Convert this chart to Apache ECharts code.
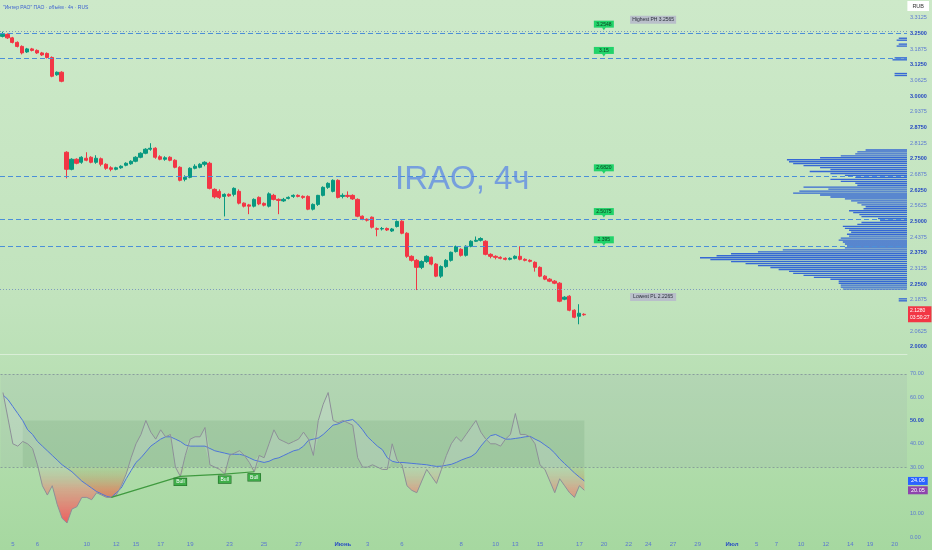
<!DOCTYPE html>
<html><head><meta charset="utf-8">
<script src="https://cdn.jsdelivr.net/npm/echarts/dist/echarts.min.js"></script>
<style>
html,body{margin:0;padding:0;width:932px;height:550px;overflow:hidden;}
#c{width:932px;height:550px;background:linear-gradient(180deg,#cde9c9 0%,#c1e3bd 55%,#a6d8a0 100%);}
</style></head><body><div id="c"></div>
<script>
// ---------- DATA ----------
// candles: [open, close, low, high]
const candles = [
[3.238,3.246,3.234,3.2565],[3.246,3.232,3.228,3.25],[3.232,3.214,3.21,3.236],[3.214,3.198,3.194,3.218],
[3.198,3.172,3.166,3.202],[3.176,3.188,3.172,3.192],[3.188,3.182,3.178,3.192],[3.182,3.172,3.168,3.186],
[3.172,3.164,3.16,3.176],[3.170,3.154,3.15,3.174],[3.154,3.079,3.075,3.158],[3.085,3.095,3.081,3.098],
[3.095,3.059,3.055,3.099],[2.776,2.708,2.672,2.780],[2.708,2.748,2.704,2.752],[2.748,2.732,2.728,2.752],
[2.736,2.756,2.73,2.76],[2.752,2.744,2.74,2.776],[2.756,2.736,2.732,2.76],[2.736,2.752,2.73,2.764],
[2.75,2.728,2.72,2.755],[2.728,2.712,2.706,2.732],[2.714,2.708,2.70,2.72],[2.708,2.714,2.704,2.718],
[2.714,2.72,2.71,2.724],[2.724,2.732,2.72,2.736],[2.73,2.74,2.726,2.744],
[2.74,2.756,2.736,2.76],[2.756,2.772,2.752,2.776],[2.772,2.788,2.768,2.792],[2.788,2.792,2.782,2.812],
[2.792,2.756,2.75,2.796],[2.758,2.748,2.744,2.764],[2.748,2.754,2.742,2.76],[2.756,2.744,2.74,2.76],
[2.744,2.716,2.712,2.748],[2.716,2.664,2.66,2.72],[2.668,2.676,2.66,2.684],
[2.676,2.712,2.672,2.716],[2.712,2.72,2.708,2.728],[2.716,2.728,2.712,2.732],
[2.728,2.736,2.72,2.74],[2.732,2.632,2.628,2.738],[2.628,2.598,2.592,2.632],[2.62,2.596,2.59,2.628],
[2.6,2.608,2.52,2.612],[2.608,2.602,2.598,2.612],[2.608,2.632,2.6,2.636],[2.62,2.573,2.568,2.628],
[2.573,2.561,2.556,2.576],[2.566,2.561,2.529,2.57],[2.561,2.588,2.556,2.592],[2.596,2.57,2.565,2.6],
[2.572,2.565,2.56,2.576],[2.561,2.61,2.556,2.616],[2.604,2.588,2.584,2.61],[2.588,2.584,2.529,2.592],
[2.582,2.588,2.578,2.594],[2.592,2.596,2.588,2.6],[2.6,2.604,2.594,2.608],[2.604,2.6,2.596,2.608],
[2.6,2.596,2.59,2.604],[2.6,2.549,2.545,2.604],[2.549,2.568,2.544,2.572],[2.568,2.604,2.562,2.606],
[2.604,2.636,2.6,2.64],[2.636,2.652,2.63,2.656],[2.62,2.664,2.616,2.668],[2.664,2.596,2.592,2.668],
[2.6,2.604,2.592,2.612],[2.604,2.6,2.594,2.62],[2.604,2.59,2.586,2.608],[2.588,2.521,2.517,2.592],
[2.521,2.509,2.505,2.524],[2.509,2.505,2.50,2.512],[2.517,2.477,2.472,2.52],[2.471,2.469,2.441,2.476],
[2.47,2.472,2.464,2.478],[2.472,2.466,2.462,2.476],[2.462,2.47,2.458,2.474],
[2.48,2.5,2.476,2.504],[2.501,2.453,2.449,2.505],
[2.453,2.361,2.355,2.457],[2.361,2.345,2.34,2.365],[2.345,2.317,2.2265,2.35],[2.317,2.34,2.31,2.345],
[2.34,2.361,2.335,2.365],[2.357,2.33,2.325,2.36],[2.33,2.282,2.278,2.334],[2.282,2.32,2.275,2.325],
[2.32,2.345,2.315,2.35],[2.345,2.377,2.34,2.38],[2.38,2.40,2.376,2.404],
[2.389,2.365,2.36,2.393],[2.365,2.401,2.36,2.405],[2.401,2.421,2.397,2.425],
[2.421,2.425,2.418,2.44],[2.425,2.432,2.42,2.437],[2.421,2.369,2.365,2.425],[2.369,2.361,2.353,2.373],
[2.361,2.357,2.349,2.365],[2.357,2.353,2.349,2.361],[2.353,2.349,2.345,2.357],[2.349,2.353,2.345,2.357],
[2.353,2.361,2.349,2.365],[2.361,2.349,2.345,2.401],[2.349,2.345,2.341,2.353],[2.345,2.341,2.337,2.349],
[2.337,2.317,2.30,2.341],[2.317,2.282,2.278,2.321],[2.282,2.27,2.266,2.286],[2.27,2.262,2.258,2.274],
[2.262,2.254,2.25,2.266],[2.254,2.182,2.178,2.258],[2.19,2.198,2.186,2.202],[2.202,2.146,2.142,2.206],
[2.146,2.118,2.114,2.15],[2.122,2.134,2.09,2.17],[2.13,2.128,2.124,2.134]
];
const rsiValues = [62,51,40,39,41,40,38,31,22,18,22,14,8,6,12,13,17,17,16,19,18,17,17,18,22,27,34,40,44,50,45,42,46,43,44,30,26,35,42,43,43,47,31,30,29,27,35,36,37,35,32,28,35,34,40,46,42,41,40,41,42,45,42,35,50,57,62,50,49,50,49,48,34,30,30,31,30,29,29,40,33,31,22,20,19,24,29,26,23,29,35,40,43,41,44,47,50,45,42,40,40,39,42,44,53,44,44,43,40,31,29,24,19,25,22,19,17,22,20.05];
const rsiMaValues = [61,59,56,53,50,46,44,41,39,37,35,33,31,29.5,28,26,24,22.5,21,19.5,18.5,17.5,17,19,21,25,28.5,32,34,36.5,39,40.5,42,43,43,42,41,39.5,39,39,39,39,38,37,36.5,36,35.5,35.5,35.5,35,34,33,32.5,32,32.5,33.5,34,35,36,37,37.5,39,41.5,42,42.5,44,46,48,48.5,49.5,50,50.4,48.5,46,43,41,39,37.5,34,32.5,32,32,31.8,31.6,31.4,31.2,31,30.6,30.3,30.4,30.8,31.2,32,33,33.8,34.5,36,39,41.5,43.5,44,43,42,42,42.3,42.6,43,43.2,42,41,39.5,38,36,33.5,31.5,29.5,27.5,25.7,24.06];
const bullDivergence = [[22,17],[36,26],[45,27],[51,28]];
const levelPrices = [3.2548, 3.15, 2.682, 2.5075, 2.395];
const levelLabels = ['3.2548','3.15','2.6820','2.5075','2.395'];
const pivotHigh = 3.2565, pivotLow = 2.2265;
const lastPrice = 2.128, countdown = '03:50:27';
const rsiLast = 20.05, rsiMaLast = 24.06;
const profileStart = 2.2265, profileBin = 0.0078125;
const profileVolumes = [31,32,32,33,33,37,45,50,55,57,62,66,72,78,85,95,100,92,85,72,60,30,29,30,31,33,32,28,29,27,28,30,31,24,22,13,14,22,23,26,28,21,20,22,24,27,30,37,42,55,52,38,50,24,25,32,37,25,30,37,47,37,42,50,55,57,58,42,32,25,24,20];
const profileExtraPrices = [2.1797,2.1875,3.0781,3.0859,3.1406,3.1484,3.1953,3.2031,3.2188,3.2266];
const profileExtraVolumes = [4,4,6,6,7,6,5,4,5,4];
const tickBars   = [2,7,17,23,27,32,38,46,53,60,69,74,81,93,100,104,109,117,122,127,131,136,141,148,153,157,162,167,172,176,181];
const tickLabels = ['5','6','10','12','15','17','19','23','25','27','Июнь','3','6','8','10','13','15','17','20','22','24','27','29','Июл','5','7','10','12','14','19','20'];
const monthLabels = ['Июнь','Июл'];
const SLOTS = 184;

// ---------- BUILD ----------
const categories = Array.from({length:SLOTS},(_,i)=>String(i));
const labelAt = {}; tickBars.forEach((b,i)=>labelAt[b]=tickLabels[i]);
const rsiLo = rsiValues.map((v,i)=>Math.min(v,rsiMaValues[i]));
const rsiDiff = rsiValues.map((v,i)=>Math.abs(v-rsiMaValues[i]));
const osBase = rsiValues.map(v=>Math.min(v,30));
const osFill = rsiValues.map(v=>30-Math.min(v,30));
const profileData = profileVolumes.map((v,k)=>[profileStart+k*profileBin, v])
  .concat(profileExtraPrices.map((p,i)=>[p, profileExtraVolumes[i]]));
const bullData = bullDivergence.map((d,i)=>({value:d, label:{show:i>0}}));

const LABEL_SLOT = 122, PIVOT_SLOT = 132;
const FONT = 'Liberation Sans, Arial, sans-serif';
const CLEAR = 'rgba(0,0,0,0)';
const markPts = [];
levelPrices.forEach((p,i)=>{
  markPts.push({coord:[LABEL_SLOT,p], symbol:'rect', symbolSize:[20,7], symbolOffset:[0,-8],
    itemStyle:{color:'#21d36a'}, label:{show:true, position:'inside', fontSize:5, color:'#0b3a1c', formatter:levelLabels[i]}});
  markPts.push({coord:[LABEL_SLOT,p], symbol:'triangle', symbolRotate:180, symbolSize:[4,3], symbolOffset:[0,-3.5],
    itemStyle:{color:'#21d36a'}, label:{show:false}});
});
markPts.push({coord:[PIVOT_SLOT,pivotHigh], symbol:'rect', symbolSize:[46,8], symbolOffset:[0,-12],
  itemStyle:{color:'#b9bfca'}, label:{show:true, position:'inside', fontSize:5, color:'#2b2f3a', formatter:'Highest PH '+pivotHigh.toFixed(4)}});
markPts.push({coord:[PIVOT_SLOT,pivotLow], symbol:'rect', symbolSize:[46,8], symbolOffset:[0,7],
  itemStyle:{color:'#b9bfca'}, label:{show:true, position:'inside', fontSize:5, color:'#2b2f3a', formatter:'Lowest PL '+pivotLow.toFixed(4)}});

const dashed = {type:[5,3], color:'#4b8fd8', width:1};
const priceLines = levelPrices.map(p=>({yAxis:p, lineStyle:dashed, label:{show:false}}));
priceLines.push({yAxis:pivotHigh, lineStyle:{type:[1,2], color:'#7d9cbd', width:1}, label:{show:false}});
priceLines.push({yAxis:pivotLow, lineStyle:{type:[1,2], color:'#7d9cbd', width:1}, label:{show:false}});
priceLines.push({yAxis:lastPrice, lineStyle:{color:CLEAR, width:1},
  label:{show:true, position:'end', distance:1, formatter:lastPrice.toFixed(4)+'\n'+countdown,
    backgroundColor:'#f23645', color:'#fff', fontSize:5, lineHeight:7, padding:[1,2], fontFamily:FONT}});

const chart = echarts.init(document.getElementById('c'), null, {renderer:'canvas', width:932, height:550});
const PMIN = 1.96875, PMAX = 3.375;
const isMult = (v,s)=>Math.abs(v/s-Math.round(v/s))<1e-6;

chart.setOption({
  animation:false,
  textStyle:{fontFamily:FONT},
  title:[
    {text:'"Интер РАО" ПАО · объём · 4ч · RUS', left:3, top:5, padding:0, textStyle:{fontSize:5, color:'#3a5fd0', fontWeight:'normal'}},
    {text:'IRAO, 4ч', left:390, top:158, textStyle:{fontSize:33, color:'rgba(88,132,232,0.72)', fontWeight:'normal', fontFamily:FONT}},
    {text:'RUB', right:3, top:1, backgroundColor:'#ffffff', padding:[2,5], textStyle:{fontSize:5.5, color:'#333', fontWeight:'normal'}}
  ],
  grid:[
    {left:0, top:2, width:907, height:352.7},
    {left:0, top:350.6, width:907, height:186.4},
    {left:700, top:2, width:207, height:352.7}
  ],
  xAxis:[
    {type:'category', gridIndex:0, data:categories, boundaryGap:true,
     axisLine:{show:true, lineStyle:{color:'rgba(255,255,255,0.45)'}}, axisTick:{show:false}, axisLabel:{show:false}, splitLine:{show:false}},
    {type:'category', gridIndex:1, data:categories, boundaryGap:true,
     axisLine:{show:false}, axisTick:{show:false}, splitLine:{show:false},
     axisLabel:{interval:0, margin:4, fontSize:6, color:'#5a78d0',
       formatter:(v,i)=>{const t=labelAt[i]; if(!t) return ''; return monthLabels.includes(t)?'{m|'+t+'}':t;},
       rich:{m:{fontSize:6, fontWeight:'bold', color:'#2a4fc4'}}}},
    {type:'value', gridIndex:2, inverse:true, min:0, max:100, show:false}
  ],
  yAxis:[
    {type:'value', gridIndex:0, position:'right', min:PMIN, max:PMAX, interval:0.03125,
     axisLine:{show:false}, axisTick:{show:false}, splitLine:{show:false},
     axisLabel:{showMaxLabel:false, showMinLabel:false, margin:3, fontSize:5.5,
       formatter:v=>{ if(!isMult(v,0.0625)) return ''; return isMult(v,0.125)?'{d|'+v.toFixed(4)+'}':'{l|'+v.toFixed(4)+'}'; },
       rich:{d:{fontSize:5.5, color:'#2447c2', fontWeight:'bold'}, l:{fontSize:5.5, color:'#5c7ad2'}}}},
    {type:'value', gridIndex:1, position:'right', min:0, max:80, interval:10,
     axisLine:{show:false}, axisTick:{show:false}, splitLine:{show:false},
     axisLabel:{showMaxLabel:false, margin:3, fontSize:5.5,
       formatter:v=> v===50?'{d|'+v.toFixed(2)+'}':'{l|'+v.toFixed(2)+'}',
       rich:{d:{fontSize:5.5, color:'#2447c2', fontWeight:'bold'}, l:{fontSize:5.5, color:'#5c7ad2'}}}},
    {type:'value', gridIndex:2, min:PMIN, max:PMAX, show:false}
  ],
  series:[
    {type:'custom', name:'profile', xAxisIndex:2, yAxisIndex:2, data:profileData, silent:true, z:1,
     renderItem:(params,api)=>{
       const p=api.value(0), v=api.value(1);
       const tl=api.coord([v,p+profileBin]); const br=api.coord([0,p]);
       return {type:'rect', shape:{x:tl[0], y:tl[1]+0.3, width:br[0]-tl[0], height:Math.max(0.6,br[1]-tl[1]-0.6)},
               style:{fill:'rgba(38,90,214,0.9)'}};
     }},
    {type:'candlestick', name:'IRAO', xAxisIndex:0, yAxisIndex:0, data:candles, barWidth:'76%', z:3,
     itemStyle:{color:'#089981', color0:'#f23645', borderColor:'#089981', borderColor0:'#f23645', borderWidth:1},
     markLine:{silent:true, symbol:['none','none'], data:priceLines},
     markPoint:{silent:true, data:markPts}},
    // RSI pane
    {type:'line', name:'osBase', xAxisIndex:1, yAxisIndex:1, data:osBase, stack:'os', symbol:'none',
     lineStyle:{opacity:0}, silent:true,
     markArea:{silent:true, data:[
       [{yAxis:30, itemStyle:{color:'rgba(150,160,175,0.16)'}},{yAxis:70}],
       [{xAxis:4, yAxis:30, itemStyle:{color:'rgba(70,120,80,0.13)'}},{xAxis:118, yAxis:50}]
     ]},
     markLine:{silent:true, symbol:['none','none'], label:{show:false},
       lineStyle:{type:[2,2], color:'rgba(120,135,150,0.7)', width:1}, data:[{yAxis:70},{yAxis:30}]}},
    {type:'line', name:'osFill', xAxisIndex:1, yAxisIndex:1, data:osFill, stack:'os', symbol:'none',
     lineStyle:{opacity:0}, silent:true,
     areaStyle:{opacity:1, color:{type:'linear', x:0, y:467, x2:0, y2:522, global:true,
       colorStops:[{offset:0,color:'rgba(160,185,120,0.25)'},{offset:0.4,color:'rgba(222,125,90,0.7)'},{offset:1,color:'rgba(245,55,55,1)'}]}}},
    {type:'line', name:'fillBase', xAxisIndex:1, yAxisIndex:1, data:rsiLo, stack:'rm', symbol:'none',
     lineStyle:{opacity:0}, silent:true},
    {type:'line', name:'fillDiff', xAxisIndex:1, yAxisIndex:1, data:rsiDiff, stack:'rm', symbol:'none',
     lineStyle:{opacity:0}, silent:true, areaStyle:{color:'rgba(215,222,228,0.35)'}},
    {type:'line', name:'RSI MA', xAxisIndex:1, yAxisIndex:1, data:rsiMaValues, symbol:'none',
     lineStyle:{color:'#4d74d8', width:1}, z:4,
     markLine:{silent:true, symbol:['none','none'],
       data:[{yAxis:rsiMaLast, lineStyle:{color:CLEAR}, label:{show:true, position:'end', distance:1, formatter:rsiMaLast.toFixed(2),
         backgroundColor:'#2962ff', color:'#fff', fontSize:5.5, padding:[1,3]}}]}},
    {type:'line', name:'RSI', xAxisIndex:1, yAxisIndex:1, data:rsiValues, symbol:'none',
     lineStyle:{color:'#8d8f98', width:1}, z:4,
     markLine:{silent:true, symbol:['none','none'],
       data:[{yAxis:rsiLast, lineStyle:{color:CLEAR}, label:{show:true, position:'end', distance:1, formatter:rsiLast.toFixed(2),
         backgroundColor:'#8e44ad', color:'#fff', fontSize:5.5, padding:[1,3]}}]}},
    {type:'line', name:'Bull', xAxisIndex:1, yAxisIndex:1, data:bullData, symbol:'circle', symbolSize:0.1,
     lineStyle:{color:'#3f9a3f', width:1.2}, z:5,
     label:{position:'bottom', distance:2, fontSize:5, color:'#ffffff', backgroundColor:'#3fae49',
       borderColor:'#1f6b25', borderWidth:0.6, padding:[1,2], formatter:'Bull'}}
  ]
});
</script></body></html>
